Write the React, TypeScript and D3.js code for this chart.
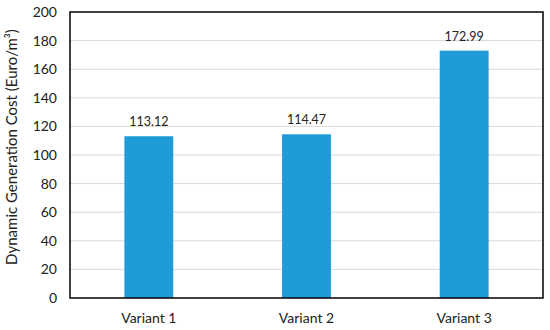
import React from "react";
import * as d3 from "d3";

const categories = ["Variant 1", "Variant 2", "Variant 3"];
const values = [113.12, 114.47, 172.99];
const yTicks = [0, 20, 40, 60, 80, 100, 120, 140, 160, 180, 200];

const W = 550, H = 330;
const m = { left: 70, right: 7, top: 12, bottom: 32 };
const font = "Lato, 'Open Sans', sans-serif";

export default function App() {
  const x = d3.scaleBand<string>().domain(categories).range([m.left, W - m.right]).paddingInner(0.69).paddingOuter(0.345);
  const y = d3.scaleLinear().domain([0, 200]).range([H - m.bottom, m.top]);
  return (
    <svg width={W} height={H} style={{ position: "absolute", left: 0, top: 0 }} fontFamily={font}>
      <rect width={W} height={H} fill="#fff" />
      {yTicks.map((t) => (
        <g key={t}>
          {t > 0 && t < 200 && <line x1={m.left} x2={W - m.right} y1={y(t)} y2={y(t)} stroke="#d9d9d9" strokeWidth={1} />}
          <text x={57} y={y(t)} dy="0.36em" textAnchor="end" fontSize={14} fill="#222">{t}</text>
        </g>
      ))}
      {categories.map((c, i) => (
        <g key={c}>
          <rect x={x(c)} y={y(values[i])} width={x.bandwidth()} height={y(0) - y(values[i])} fill="#1f9bd8" />
          <text x={x(c)! + x.bandwidth() / 2} y={y(values[i]) - 10} textAnchor="middle" fontSize={12.5} fill="#222">{values[i].toFixed(2)}</text>
          <text x={x(c)! + x.bandwidth() / 2} y={323} textAnchor="middle" fontSize={14} fill="#222">{c}</text>
        </g>
      ))}
      <rect x={m.left} y={m.top} width={W - m.right - m.left} height={H - m.bottom - m.top} fill="none" stroke="#000" strokeWidth={1.5} />
      <text transform={`translate(17,147) rotate(-90)`} textAnchor="middle" fontSize={15} fill="#222">Dynamic Generation Cost (Euro/m³)</text>
    </svg>
  );
}
